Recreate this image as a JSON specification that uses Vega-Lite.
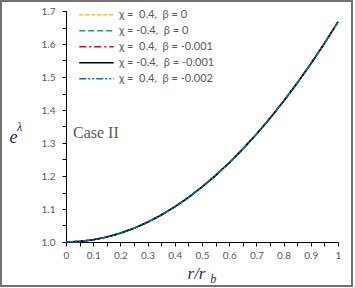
{
  "$schema": "https://vega.github.io/schema/vega-lite/v6.json",
  "width": 272,
  "height": 231,
  "autosize": {"type": "none"},
  "padding": {"left": 66, "top": 11, "right": 17, "bottom": 46},
  "background": "white",
  "config": {"view": {"stroke": null}},
  "datasets": {
    "curves": [
      {"s": "a", "r": 0, "e": 1.0}, {"s": "a", "r": 0.05, "e": 1.0017}, {"s": "a", "r": 0.1, "e": 1.0067}, {"s": "a", "r": 0.15, "e": 1.015}, {"s": "a", "r": 0.2, "e": 1.0267}, {"s": "a", "r": 0.25, "e": 1.0417}, {"s": "a", "r": 0.3, "e": 1.06}, {"s": "a", "r": 0.35, "e": 1.0817}, {"s": "a", "r": 0.4, "e": 1.1067}, {"s": "a", "r": 0.45, "e": 1.135}, {"s": "a", "r": 0.5, "e": 1.1667}, {"s": "a", "r": 0.55, "e": 1.2017}, {"s": "a", "r": 0.6, "e": 1.24}, {"s": "a", "r": 0.65, "e": 1.2817}, {"s": "a", "r": 0.7, "e": 1.3267}, {"s": "a", "r": 0.75, "e": 1.375}, {"s": "a", "r": 0.8, "e": 1.4267}, {"s": "a", "r": 0.85, "e": 1.4817}, {"s": "a", "r": 0.9, "e": 1.54}, {"s": "a", "r": 0.95, "e": 1.6017}, {"s": "a", "r": 1.0, "e": 1.667},
      {"s": "b", "r": 0, "e": 1.0}, {"s": "b", "r": 0.05, "e": 1.0017}, {"s": "b", "r": 0.1, "e": 1.0067}, {"s": "b", "r": 0.15, "e": 1.015}, {"s": "b", "r": 0.2, "e": 1.0267}, {"s": "b", "r": 0.25, "e": 1.0417}, {"s": "b", "r": 0.3, "e": 1.06}, {"s": "b", "r": 0.35, "e": 1.0817}, {"s": "b", "r": 0.4, "e": 1.1067}, {"s": "b", "r": 0.45, "e": 1.135}, {"s": "b", "r": 0.5, "e": 1.1667}, {"s": "b", "r": 0.55, "e": 1.2017}, {"s": "b", "r": 0.6, "e": 1.24}, {"s": "b", "r": 0.65, "e": 1.2817}, {"s": "b", "r": 0.7, "e": 1.3267}, {"s": "b", "r": 0.75, "e": 1.375}, {"s": "b", "r": 0.8, "e": 1.4267}, {"s": "b", "r": 0.85, "e": 1.4817}, {"s": "b", "r": 0.9, "e": 1.54}, {"s": "b", "r": 0.95, "e": 1.6017}, {"s": "b", "r": 1.0, "e": 1.667},
      {"s": "c", "r": 0, "e": 1.0}, {"s": "c", "r": 0.05, "e": 1.0017}, {"s": "c", "r": 0.1, "e": 1.0067}, {"s": "c", "r": 0.15, "e": 1.015}, {"s": "c", "r": 0.2, "e": 1.0267}, {"s": "c", "r": 0.25, "e": 1.0417}, {"s": "c", "r": 0.3, "e": 1.06}, {"s": "c", "r": 0.35, "e": 1.0817}, {"s": "c", "r": 0.4, "e": 1.1067}, {"s": "c", "r": 0.45, "e": 1.135}, {"s": "c", "r": 0.5, "e": 1.1667}, {"s": "c", "r": 0.55, "e": 1.2017}, {"s": "c", "r": 0.6, "e": 1.24}, {"s": "c", "r": 0.65, "e": 1.2817}, {"s": "c", "r": 0.7, "e": 1.3267}, {"s": "c", "r": 0.75, "e": 1.375}, {"s": "c", "r": 0.8, "e": 1.4267}, {"s": "c", "r": 0.85, "e": 1.4817}, {"s": "c", "r": 0.9, "e": 1.54}, {"s": "c", "r": 0.95, "e": 1.6017}, {"s": "c", "r": 1.0, "e": 1.667},
      {"s": "d", "r": 0, "e": 1.0}, {"s": "d", "r": 0.05, "e": 1.0017}, {"s": "d", "r": 0.1, "e": 1.0067}, {"s": "d", "r": 0.15, "e": 1.015}, {"s": "d", "r": 0.2, "e": 1.0267}, {"s": "d", "r": 0.25, "e": 1.0417}, {"s": "d", "r": 0.3, "e": 1.06}, {"s": "d", "r": 0.35, "e": 1.0817}, {"s": "d", "r": 0.4, "e": 1.1067}, {"s": "d", "r": 0.45, "e": 1.135}, {"s": "d", "r": 0.5, "e": 1.1667}, {"s": "d", "r": 0.55, "e": 1.2017}, {"s": "d", "r": 0.6, "e": 1.24}, {"s": "d", "r": 0.65, "e": 1.2817}, {"s": "d", "r": 0.7, "e": 1.3267}, {"s": "d", "r": 0.75, "e": 1.375}, {"s": "d", "r": 0.8, "e": 1.4267}, {"s": "d", "r": 0.85, "e": 1.4817}, {"s": "d", "r": 0.9, "e": 1.54}, {"s": "d", "r": 0.95, "e": 1.6017}, {"s": "d", "r": 1.0, "e": 1.667},
      {"s": "e", "r": 0, "e": 1.0}, {"s": "e", "r": 0.05, "e": 1.0017}, {"s": "e", "r": 0.1, "e": 1.0067}, {"s": "e", "r": 0.15, "e": 1.015}, {"s": "e", "r": 0.2, "e": 1.0267}, {"s": "e", "r": 0.25, "e": 1.0417}, {"s": "e", "r": 0.3, "e": 1.06}, {"s": "e", "r": 0.35, "e": 1.0817}, {"s": "e", "r": 0.4, "e": 1.1067}, {"s": "e", "r": 0.45, "e": 1.135}, {"s": "e", "r": 0.5, "e": 1.1667}, {"s": "e", "r": 0.55, "e": 1.2017}, {"s": "e", "r": 0.6, "e": 1.24}, {"s": "e", "r": 0.65, "e": 1.2817}, {"s": "e", "r": 0.7, "e": 1.3267}, {"s": "e", "r": 0.75, "e": 1.375}, {"s": "e", "r": 0.8, "e": 1.4267}, {"s": "e", "r": 0.85, "e": 1.4817}, {"s": "e", "r": 0.9, "e": 1.54}, {"s": "e", "r": 0.95, "e": 1.6017}, {"s": "e", "r": 1.0, "e": 1.667}
    ]
  },
  "layer": [
    {
      "data": {"name": "curves"},
      "mark": {"type": "line", "strokeWidth": 1.6, "clip": false},
      "encoding": {
        "x": {
          "field": "r", "type": "quantitative",
          "scale": {"domain": [0, 1], "nice": false, "zero": false},
          "axis": {
            "values": [0, 0.05, 0.1, 0.15, 0.2, 0.25, 0.3, 0.35, 0.4, 0.45, 0.5, 0.55, 0.6, 0.65, 0.7, 0.75, 0.8, 0.85, 0.9, 0.95, 1],
            "labelExpr": "(round(datum.value * 100) % 10 == 0) ? format(datum.value, '~g') : ''",
            "grid": false, "ticks": true, "tickSize": 4, "tickColor": "black", "domainColor": "black",
            "labelFont": "Lato", "labelFontSize": 10, "labelColor": "#595959", "labelPadding": 4,
            "labelFlush": false, "labelOverlap": false,
            "title": "r/r", "titleFont": "Liberation Serif", "titleFontStyle": "italic", "titleFontWeight": "normal",
            "titleFontSize": 17, "titleColor": "#1c2a55", "titleX": 130, "titleY": 31, "titleBaseline": "middle", "titleAlign": "center"
          }
        },
        "y": {
          "field": "e", "type": "quantitative",
          "scale": {"domain": [1, 1.7], "nice": false, "zero": false},
          "axis": {
            "values": [1, 1.05, 1.1, 1.15, 1.2, 1.25, 1.3, 1.35, 1.4, 1.45, 1.5, 1.55, 1.6, 1.65, 1.7],
            "labelExpr": "(round(datum.value * 100) % 10 == 0) ? format(datum.value, '.1f') : ''",
            "grid": false, "ticks": true, "tickSize": 4, "tickColor": "black", "domainColor": "black",
            "labelFont": "Lato", "labelFontSize": 10, "labelColor": "#595959", "labelPadding": 7,
            "labelOverlap": false, "labelFlush": false,
            "title": "e", "titleFont": "Liberation Serif", "titleFontStyle": "italic", "titleFontWeight": "normal",
            "titleFontSize": 18, "titleColor": "#1c2a55", "titleAngle": 0, "titleX": -53, "titleY": 126,
            "titleAlign": "center", "titleBaseline": "middle"
          }
        },
        "color": {
          "field": "s", "type": "nominal",
          "scale": {"domain": ["a", "b", "c", "d", "e"], "range": ["#FFC000", "#00B050", "#FF0000", "#000000", "#0070C0"]},
          "legend": {
            "title": null, "orient": "none", "legendX": 12, "legendY": -4,
            "labelExpr": "{'a': 'χ =\u00a0\u00a00.4,\u00a0\u00a0β = 0', 'b': 'χ = -0.4,\u00a0\u00a0β = 0', 'c': 'χ =\u00a0\u00a00.4,\u00a0\u00a0β = -0.001', 'd': 'χ = -0.4,\u00a0\u00a0β = -0.001', 'e': 'χ =\u00a0\u00a00.4,\u00a0\u00a0β = -0.002'}[datum.value]",
            "labelFont": "Lato", "labelFontSize": 11, "labelColor": "#595959", "labelOffset": 4,
            "symbolType": "stroke", "symbolSize": 1190, "symbolStrokeWidth": 1.6, "rowPadding": 0, "padding": 0,
            "clipHeight": 15.4
          }
        },
        "strokeDash": {
          "field": "s", "type": "nominal",
          "scale": {"domain": ["a", "b", "c", "d", "e"], "range": [[4, 2], [6, 3], [7, 3, 2, 3], [1, 0], [7, 2, 2, 2, 2, 2]]},
          "legend": null
        }
      }
    },
    {
      "data": {"values": [{}]},
      "mark": {"type": "rect", "filled": false, "stroke": "#737373", "strokeWidth": 2, "clip": false},
      "encoding": {
        "x": {"datum": -0.239, "axis": null},
        "x2": {"datum": 1.0515},
        "y": {"datum": 1.7303, "axis": null},
        "y2": {"datum": 0.8667}
      }
    },
    {
      "data": {"values": [{}]},
      "mark": {"type": "text", "text": "Case II", "font": "Liberation Serif", "fontSize": 16, "color": "#595959", "align": "left", "baseline": "middle", "clip": false},
      "encoding": {"x": {"datum": 0.0257, "axis": null}, "y": {"datum": 1.3303, "axis": null}}
    },
    {
      "data": {"values": [{}]},
      "mark": {"type": "text", "text": "λ", "font": "Liberation Serif", "fontStyle": "italic", "fontSize": 12, "color": "#1c2a55", "align": "left", "baseline": "middle", "clip": false},
      "encoding": {"x": {"datum": -0.18, "axis": null}, "y": {"datum": 1.3485, "axis": null}}
    },
    {
      "data": {"values": [{}]},
      "mark": {"type": "text", "text": "b", "font": "Liberation Serif", "fontStyle": "italic", "fontSize": 12, "color": "#1c2a55", "align": "left", "baseline": "middle", "clip": false},
      "encoding": {"x": {"datum": 0.53, "axis": null}, "y": {"datum": 0.889, "axis": null}}
    }
  ],
  "resolve": {"axis": {"x": "independent", "y": "independent"}}
}
